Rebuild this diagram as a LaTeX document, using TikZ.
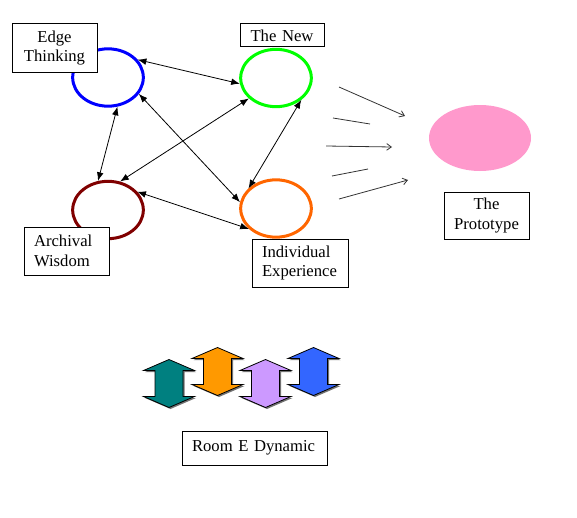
\documentclass[tikz,border=0pt]{standalone}
\usepackage{fontspec}
\setmainfont{Liberation Serif}
\usetikzlibrary{shapes.geometric, arrows.meta}
\definecolor{edgeblue}{RGB}{0,0,255}
\definecolor{newgreen}{RGB}{0,255,0}
\definecolor{archred}{RGB}{128,0,0}
\definecolor{indorange}{RGB}{255,102,0}
\definecolor{protopink}{RGB}{255,153,204}
\definecolor{dynteal}{RGB}{0,128,128}
\definecolor{dynorange}{RGB}{255,153,0}
\definecolor{dynlilac}{RGB}{204,153,255}
\definecolor{dynblue}{RGB}{51,102,255}
\tikzset{
  pics/updown/.style={code={
    \fill[black!55] (1.5,-22.5) -- (27,-11.5) -- (15.5,-11.5) -- (15.5,14.5)
      -- (27,14.5) -- (1.5,25.5) -- (-24,14.5) -- (-12.5,14.5) -- (-12.5,-11.5)
      -- (-24,-11.5) -- cycle;
    \draw[fill=#1,line width=.6pt] (0,-24) -- (25.5,-13) -- (14,-13) -- (14,13)
      -- (25.5,13) -- (0,24) -- (-25.5,13) -- (-14,13) -- (-14,-13)
      -- (-25.5,-13) -- cycle;
  }}
}
\begin{document}
\begin{tikzpicture}[x=.75pt,y=-.75pt,>={Latex[length=6.5pt,width=5pt]},
  every node/.style={font=\fontsize{12.5}{14.5}\selectfont},
  ring/.style={draw,ellipse,line width=2.25pt,minimum width=53pt,
    minimum height=43pt},
  lbl/.style={draw,fill=white,line width=.75pt,inner xsep=7.5pt,
    inner ysep=0pt},
  link/.style={<->,line width=.6pt},
  ray/.style={line width=.6pt,draw=black!80}]
 \useasboundingbox (0,0) rectangle (577,517);
 % the four rings
 \node[ring,draw=edgeblue] (edge) at (108,77.5) {};
 \node[ring,draw=newgreen] (new) at (276,78) {};
 \node[ring,draw=archred] (arch) at (108,210) {};
 \node[ring,draw=indorange] (indiv) at (276,208.5) {};
 \node[ellipse,fill=protopink,minimum width=76.5pt,minimum height=49.5pt]
   (proto) at (480,138) {};
 % labels
 \node[lbl,text width=48.75pt,align=center,minimum height=36pt]
   (edgelbl) at (54.5,48) {Edge\\Thinking};
 \node[lbl,text width=48pt,align=center,minimum height=17.25pt]
   (newlbl) at (282,35.5) {The New};
 \node[lbl,text width=48.75pt,align=left,minimum height=36pt]
   (archlbl) at (66.5,251) {Archival\\Wisdom};
 \node[lbl,text width=57pt,align=left,minimum height=36pt]
   (indivlbl) at (300,263) {Individual\\Experience};
 \node[lbl,text width=48.75pt,align=center,minimum height=35.25pt]
   (protolbl) at (486.5,215.5) {The\\Prototype};
 \node[lbl,text width=93.75pt,align=left,minimum height=25.5pt]
   (dynlbl) at (254.5,448) {Room E Dynamic};
 % links between the rings
 \draw[link] (edge.31) -- (new.189);
 \draw[link] (edge.288) -- (arch.109);
 \draw[link] (edge.332) -- (indiv.170);
 \draw[link] (new.217) -- (arch.67);
 \draw[link] (new.319) -- (indiv.144);
 \draw[link] (arch.32) -- (indiv.217);
 % rays towards the prototype
 \coordinate (r1s) at (339,87);  \coordinate (r1e) at (405,116);
 \coordinate (r2s) at (333,118); \coordinate (r2e) at (370,124);
 \coordinate (r3s) at (326,146); \coordinate (r3e) at (392,147);
 \coordinate (r4s) at (332,176); \coordinate (r4e) at (368,169);
 \coordinate (r5s) at (339,199); \coordinate (r5e) at (408,180);
 \draw[ray,-{Straight Barb[length=3.5pt,width=5pt]}] (r1s) -- (r1e);
 \draw[ray] (r2s) -- (r2e);
 \draw[ray,-{Straight Barb[length=3.5pt,width=5pt]}] (r3s) -- (r3e);
 \draw[ray] (r4s) -- (r4e);
 \draw[ray,-{Straight Barb[length=3.5pt,width=5pt]}] (r5s) -- (r5e);
 % dynamic arrows
 \pic at (169,383.5) {updown=dynteal};
 \pic at (217.5,371.5) {updown=dynorange};
 \pic at (265.5,383.5) {updown=dynlilac};
 \pic at (313.5,371.5) {updown=dynblue};
\end{tikzpicture}
\end{document}
